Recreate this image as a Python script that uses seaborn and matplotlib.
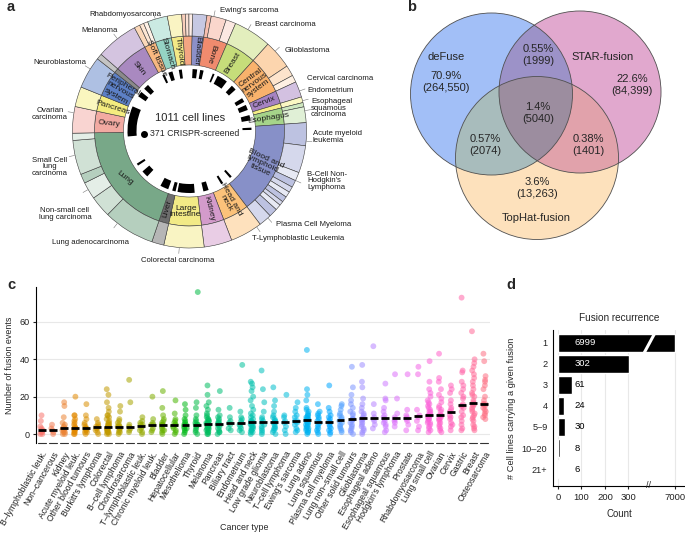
#fusion figure, four panels
import numpy as np
import pandas as pd
import matplotlib
matplotlib.use("Agg")
import matplotlib.pyplot as plt
import matplotlib.colors as mcolors
from matplotlib.patches import Wedge, Circle
from matplotlib.lines import Line2D
import seaborn as sns

sns.set_theme(style="white")
plt.rcParams['font.family'] = ['Liberation Sans', 'DejaVu Sans']

# ---------------- data ----------------
# panel a : tissues of the 1011 cell lines (clockwise from top)
tissue_names = ["Bladder", "Bone", "Breast", "Central\nnervous\nsystem", "Cervix", "", "Esophagus",
                "Blood and\nlymphoid\ntissue", "Head and\nneck", "Kidney", "Large\nintestine", "Liver", "Lung",
                "Ovary", "Pancreas", "Peripheral\nnervous\nsystem", "", "Skin", "Soft tissue", "Stomach",
                "Thyroid", ""]
tissue_counts = [20, 41, 53, 65, 22, 8, 28, 160, 45, 39, 56, 17, 197, 37, 28, 45, 8, 59, 20, 28, 20, 15]
tissue_colors = ["#8c90c8", "#f08b6e", "#c6dd7a", "#f9b26c", "#a683c2", "#f6ee86", "#a6d48a",
                 "#8790c8", "#fcc27a", "#d39bcb", "#f2ea86", "#6d6d6d", "#78a888", "#f2aaa2",
                 "#f4ec7f", "#5d80c6", "#8a8a8a", "#a989c0", "#f8b880", "#95d4c4", "#f4e986", "#f4a582"]
subtype_counts = [[20], [6, 21, 14], [53], [40, 15, 10], [22], [8], [6, 22],
                  [32, 38, 12, 10, 8, 8, 8, 6, 8, 12, 18], [45], [39], [56], [17],
                  [72, 30, 24, 13, 48, 10], [37], [28], [45], [8], [59], [8, 6, 6], [28], [20], [5, 5, 5]]
# CRISPR-screened lines, run lengths in cell-line order (not screened, screened, ...)
crispr_runs = [8, 12, 8, 9, 25, 5, 9, 28, 17, 14, 28, 11, 9, 14, 14, 14, 19, 6, 135, 6, 22, 6,
               36, 14, 23, 45, 5, 9, 11, 22, 42, 18, 19, 6, 75, 80, 30, 14, 11, 14, 45, 6, 11, 11,
               17, 8, 20]
n_lines = 1011
n_screened = 371

# panel b : fusion callers
venn_names = ["deFuse", "STAR-fusion", "TopHat-fusion"]
venn_counts = [264550, 84399, 13263, 1999, 2074, 1401, 5040]
venn_pcts = [70.9, 22.6, 3.6, 0.55, 0.57, 0.38, 1.4]

# panel c : fusion events per cell line, by cancer type
cancer_types = ["B–lymphoblastic leuk.", "Non–cancerous", "Kidney", "Acute myeloid leuk.",
                "Other blood tumours", "Burkitt's lymphoma", "Colorectal", "B–cell lymphoma",
                "Chondrosarcoma", "T–lymphoblastic leuk.", "Chronic myeloid leuk.", "Bladder",
                "Hepatocellular", "Mesothelioma", "Thyroid", "Melanoma", "Pancreas", "Biliary tract",
                "Endometrium", "Head and neck", "Low grade glioma", "Neuroblastoma", "T–cell lymphoma",
                "Ewing's sarcoma", "Lung adeno", "Lung squamous", "Plasma cell myeloma",
                "Lung non–small cell", "Other solid tumours", "Glioblastoma", "Esophageal adeno",
                "Esophageal squamous", "Hodgkin's lymphoma", "Prostate", "Rhabdomyosarcoma",
                "Lung small cell", "Ovarian", "Cervix", "Gastric", "Breast", "Osteosarcoma"]
fusion_events = [
    [0, 0, 1, 1, 2, 2, 3, 4, 7, 10],
    [0, 1, 2, 3, 5],
    [0, 0, 1, 1, 2, 2, 3, 3, 4, 5, 6, 9, 15, 17],
    [0, 0, 1, 1, 2, 2, 3, 3, 3, 4, 5, 6, 7, 8, 10, 10, 20],
    [0, 1, 1, 2, 2, 3, 3, 3, 4, 5, 6, 8, 10, 16],
    [0, 1, 2, 3, 3, 4, 4, 5, 6, 8],
    [0, 0, 1, 1, 1, 2, 2, 2, 3, 3, 3, 3, 4, 4, 4, 4, 5, 5, 5, 6, 6, 7, 8, 9, 10, 10, 12, 14, 17, 21, 24],
    [0, 1, 1, 2, 3, 3, 4, 4, 4, 5, 6, 7, 8, 12, 15],
    [1, 2, 3, 4, 5, 17, 29],
    [0, 1, 2, 3, 4, 5, 5, 6, 7, 9],
    [1, 2, 3, 5, 5, 6, 8, 20],
    [0, 1, 2, 2, 3, 4, 5, 5, 5, 6, 7, 8, 10, 14, 23],
    [0, 1, 2, 3, 4, 5, 5, 6, 7, 8, 11, 18],
    [0, 1, 2, 3, 3, 4, 5, 5, 6, 7, 8, 10, 13, 16],
    [0, 1, 2, 3, 4, 5, 5, 5, 6, 7, 8, 10, 14, 17, 76],
    [0, 0, 1, 1, 2, 2, 3, 3, 3, 4, 4, 4, 5, 5, 5, 6, 6, 6, 7, 7, 8, 8, 9, 10, 11, 13, 15, 17, 21, 26],
    [0, 1, 1, 2, 3, 4, 5, 5, 6, 6, 7, 8, 9, 10, 13, 23],
    [2, 3, 5, 6, 7, 9, 14],
    [1, 2, 3, 4, 5, 6, 7, 8, 9, 12, 37],
    [0, 1, 1, 2, 2, 3, 3, 4, 4, 5, 5, 6, 6, 6, 7, 7, 8, 9, 10, 11, 13, 15, 18, 20, 23, 25, 27, 28],
    [0, 1, 2, 3, 4, 5, 6, 7, 8, 9, 12, 17, 24, 34],
    [0, 1, 2, 3, 3, 4, 5, 6, 6, 7, 7, 8, 9, 10, 12, 15, 18, 25],
    [0, 2, 4, 6, 7, 9, 10, 21],
    [1, 2, 3, 5, 6, 7, 7, 9, 10, 12, 14, 17],
    [0, 1, 1, 2, 2, 3, 3, 4, 4, 5, 5, 6, 6, 7, 7, 8, 8, 8, 9, 9, 10, 10, 11, 12, 13, 14, 18, 21, 24, 45],
    [0, 1, 2, 3, 4, 5, 6, 7, 8, 9, 10, 11, 12, 16],
    [0, 1, 2, 3, 4, 5, 6, 7, 8, 9, 10, 12, 14, 26],
    [1, 2, 3, 4, 5, 6, 7, 8, 9, 10, 11, 13, 15, 16],
    [0, 1, 2, 3, 4, 5, 6, 7, 8, 8, 8, 10, 11, 12, 14, 16, 18, 21, 25, 36],
    [0, 1, 2, 3, 4, 5, 6, 7, 8, 8, 9, 10, 11, 12, 14, 16, 19, 25, 28, 37],
    [3, 5, 7, 8, 9, 11, 16, 47],
    [1, 2, 4, 5, 6, 7, 8, 9, 10, 12, 14, 18, 19, 27],
    [4, 6, 7, 8, 9, 11, 19, 32],
    [2, 5, 7, 8, 9, 10, 13, 32],
    [2, 4, 7, 9, 10, 13, 32, 36],
    [1, 2, 3, 4, 5, 6, 6, 7, 8, 8, 9, 9, 10, 10, 10, 11, 12, 12, 13, 14, 15, 16, 17, 18, 20, 22, 24, 28, 39],
    [1, 2, 3, 4, 5, 6, 7, 8, 8, 9, 10, 10, 10, 12, 13, 14, 15, 17, 19, 21, 24, 28, 30, 43],
    [2, 4, 5, 6, 8, 9, 10, 12, 13, 14, 16, 18, 22, 24, 26],
    [2, 3, 5, 7, 9, 10, 12, 14, 15, 15, 16, 19, 20, 22, 24, 26, 28, 33, 34, 73],
    [2, 3, 4, 5, 7, 8, 9, 10, 11, 12, 13, 14, 15, 16, 16, 17, 18, 20, 21, 22, 24, 26, 28, 30, 32, 34, 36, 38, 40, 55],
    [8, 9, 10, 11, 12, 13, 14, 15, 16, 16, 16, 18, 20, 24, 26, 28, 29, 31, 39, 43],
]

# panel d : fusion recurrence
recurrence = ["1", "2", "3", "4", "5–9", "10–20", "21+"]
recurrence_counts = [6999, 302, 61, 24, 30, 8, 6]

# ---------------- figure ----------------
W, H = 685, 533
fig = plt.figure(figsize=(W / 100, H / 100), dpi=100)


def px_axes(x0, y0, x1, y1):
    return fig.add_axes([x0 / W, 1 - y1 / H, (x1 - x0) / W, (y1 - y0) / H])


def tint(c, f):
    rgb = np.array(mcolors.to_rgb(c))
    return tuple(rgb + (1 - rgb) * f)


def fig_text(x, y, s, **kw):
    fig.text(x / W, 1 - y / H, s, **kw)


# ---- a : donut ----
axa = px_axes(0, 0, 400, 268)
axa.set_xlim(0, 400)
axa.set_ylim(268, 0)
axa.axis('off')
cx, cy = 189.5, 131
deg = 360 / n_lines
edge = dict(edgecolor='#3c3c3c', lw=0.4)
tints = [0.45, 0.65, 0.8]
th = 1.5
for name, n, col, subs in zip(tissue_names, tissue_counts, tissue_colors, subtype_counts):
    t1, t2 = th, th + n * deg
    axa.add_patch(Wedge((cx, cy), 95, t1 - 90, t2 - 90, width=29, facecolor=col, **edge))
    s = t1
    for k, m in enumerate(subs):
        f = 0.5 if len(subs) == 1 else tints[k % 3]
        axa.add_patch(Wedge((cx, cy), 117, s - 90, s + m * deg - 90, width=22,
                            facecolor=tint(col, f), **edge))
        s += m * deg
    if name:
        mid = (t1 + t2) / 2
        rot = ((90 - mid + 90) % 180) - 90
        if (mid > 330 or mid < 30) and rot > 0:
            rot -= 180
        if name.startswith("Large"):
            rot = 0
        if name == "Lung":
            rot = -38
        r = 80.5
        axa.text(cx + r * np.sin(np.radians(mid)), cy - r * np.cos(np.radians(mid)), name,
                 rotation=rot, ha='center', va='center', fontsize=6, linespacing=0.95,
                 rotation_mode='anchor', color='#1a1a1a')
    th = t2

pos = 0
for k, n in enumerate(crispr_runs):
    if k % 2 == 1:
        axa.add_patch(Wedge((cx, cy), 62, pos * deg - 90, (pos + n) * deg - 90, width=9,
                            facecolor='black', edgecolor='none'))
    pos += n

axa.text(cx + 1, 118, f"{n_lines} cell lines", ha='center', va='center', fontsize=8)
axa.plot([144], [134], 'o', color='black', ms=4)
axa.text(150, 134, f"{n_screened} CRISPR-screened", ha='left', va='center', fontsize=6.3)

outer_labels = [
    ("Rhabdomyosarcoma", 125, 15, 'center', 343),
    ("Melanoma", 100, 31, 'center', 322),
    ("Neuroblastoma", 60, 62, 'center', 302),
    ("Ovarian\ncarcinoma", 50, 114, 'center', 279),
    ("Small Cell\nlung\ncarcinoma", 50, 167, 'center', 258),
    ("Non-small cell\nlung carcinoma", 65, 214, 'center', 240),
    ("Lung adenocarcinoma", 91, 243, 'center', 218),
    ("Colorectal carcinoma", 178, 260, 'center', 185),
    ("T-Lymphoblastic Leukemia", 252, 239, 'left', 145),
    ("Plasma Cell Myeloma", 276, 225, 'left', 138),
    ("B-Cell Non-\nHodgkin's\nLymphoma", 307, 181, 'left', 115),
    ("Acute myeloid\nleukemia", 313, 137, 'left', 95),
    ("Esophageal\nsquamous\ncarcinoma", 311, 108, 'left', 80),
    ("Endometrium", 307, 90, 'left', 75),
    ("Cervical carcinoma", 307, 78, 'left', 70),
    ("Glioblastoma", 307, 51, 'center', 47),
    ("Breast carcinoma", 285, 25, 'center', 30),
    ("Ewing's sarcoma", 249, 10, 'center', 12),
]
for txt, x, y, ha, ang in outer_labels:
    axa.text(x, y, txt, ha=ha, va='center', fontsize=5.6, linespacing=0.95, color='#1a1a1a')
    a = np.radians(ang)
    axa.plot([cx + 117.5 * np.sin(a), cx + 123 * np.sin(a)],
             [cy - 117.5 * np.cos(a), cy - 123 * np.cos(a)], color='#777777', lw=0.4)

# ---- b : venn ----
axb = px_axes(400, 0, 685, 268)
circles = [(491.5, 94, 81), (580, 92, 81), (537, 158, 81.5)]
region_rgb = np.array([(255, 255, 255), (163, 191, 247), (226, 168, 206), (156, 147, 201),
                       (253, 225, 189), (168, 189, 189), (226, 163, 171), (156, 141, 160)]) / 255
ss = 3
X, Y = np.meshgrid((np.arange(400 * ss, 685 * ss) + 0.5) / ss, (np.arange(0, 268 * ss) + 0.5) / ss)
code = np.zeros(X.shape, dtype=int)
for k, (ccx, ccy, r) in enumerate(circles):
    code += (((X - ccx) ** 2 + (Y - ccy) ** 2) <= r ** 2).astype(int) << k
axb.imshow(region_rgb[code], extent=(400, 685, 268, 0), interpolation='antialiased')
for ccx, ccy, r in circles:
    axb.add_patch(Circle((ccx, ccy), r, facecolor='none', edgecolor='#505050', lw=0.6))
axb.set_xlim(400, 685)
axb.set_ylim(268, 0)
axb.axis('off')

for nm, (x, y) in zip(venn_names, [(446.5, 57), (603, 57), (536, 218)]):
    axb.text(x, y, nm, ha='center', va='center', fontsize=8)
for c, p, (x, y) in zip(venn_counts, venn_pcts,
                        [(446, 82), (632, 85), (537, 188), (538, 55), (485, 145), (588, 145), (538, 113)]):
    cs = f"{c:,}" if c >= 10000 else str(c)
    axb.text(x, y, f"{p}%\n({cs})", ha='center', va='center', fontsize=8, linespacing=1.2)

# ---- c : strip plot ----
def gg_hue(n):
    hues = np.linspace(15, 375, n + 1)[:-1]
    try:
        from seaborn.external import husl
        return [tuple(np.clip(husl.lch_to_rgb(65, 100, h), 0, 1)) for h in hues]
    except Exception:
        return sns.husl_palette(n, h=15 / 360, l=0.65)


df = pd.DataFrame({"type": np.repeat(cancer_types, [len(v) for v in fusion_events]),
                   "events": np.concatenate(fusion_events)})
axc = px_axes(36, 287, 490, 443)
np.random.seed(7)
sns.stripplot(data=df, x="type", y="events", hue="type", order=cancer_types, hue_order=cancer_types,
              palette=gg_hue(len(cancer_types)), jitter=0.13, size=4.2, alpha=0.55, linewidth=0,
              legend=False, ax=axc, zorder=3)
med = df.groupby("type")["events"].median().reindex(cancer_types).values
axc.hlines(med, np.arange(len(med)) - 0.36, np.arange(len(med)) + 0.36, color='black', lw=2, zorder=4)
for i in range(len(cancer_types)):
    axc.plot([i - 0.36, i + 0.36], [-4.8, -4.8], color='#333333', lw=0.8, clip_on=False)
axc.set_xlim(-0.5, len(cancer_types) - 0.5)
axc.set_ylim(-4.8, 78.7)
axc.set_yticks([0, 20, 40, 60])
axc.yaxis.grid(True, color='#e8e8e8', lw=0.8)
axc.set_axisbelow(True)
for sp in ['top', 'right', 'bottom']:
    axc.spines[sp].set_visible(False)
axc.spines['left'].set_color('black')
axc.spines['left'].set_linewidth(0.8)
axc.set_xticks(range(len(cancer_types)))
axc.set_xticklabels(cancer_types, rotation=60, ha='right', rotation_mode='anchor', fontsize=6.2,
                    color='#222222')
axc.tick_params(axis='x', length=0, pad=5)
axc.tick_params(axis='y', length=2.5, width=0.8, labelsize=6.5, pad=2, left=True, colors='#222222')
axc.set_xlabel("")
axc.set_ylabel("Number of fusion events", fontsize=6.4, labelpad=4)
fig_text(244, 527, "Cancer type", ha='center', va='center', fontsize=6.4)

# ---- d : broken bar chart ----
dfd = pd.DataFrame({"rec": recurrence, "count": recurrence_counts})
axd1 = px_axes(553, 330, 648, 486)
axd2 = px_axes(648, 330, 685, 486)
for ax, lim in [(axd1, (-21, 383)), (axd2, (6885, 7042))]:
    sns.barplot(data=dfd, x="count", y="rec", order=recurrence, color='black', saturation=1,
                width=0.85, errorbar=None, orient='h', ax=ax, zorder=3)
    ax.set_xlim(*lim)
    ax.set_ylim(6.8, -0.6)
    ax.set_xlabel("")
    ax.set_ylabel("")
    ax.xaxis.grid(True, color='#e8e8e8', lw=0.8)
    ax.set_axisbelow(True)
    for sp in ['top', 'right']:
        ax.spines[sp].set_visible(False)
    ax.spines['bottom'].set_color('black')
    ax.spines['bottom'].set_linewidth(0.8)
    ax.tick_params(axis='x', length=2.5, width=0.8, labelsize=6.8, pad=2.5, bottom=True, colors='#222222')
axd1.set_xticks([0, 100, 200, 300])
axd2.set_xticks([7000])
axd1.spines['left'].set_color('black')
axd1.spines['left'].set_linewidth(0.8)
axd1.tick_params(axis='y', length=0, labelsize=6.6, pad=4, colors='#222222')
axd2.spines['left'].set_visible(False)
axd2.set_yticks([])
for i, c in enumerate(recurrence_counts):
    axd1.text(70, i, str(c), ha='left', va='center', fontsize=6.8,
              color='white' if c > 100 else 'black', zorder=5)
fig.add_artist(Line2D([643 / W, 656 / W], [1 - 355 / H, 1 - 331 / H], color='white', lw=2.2,
                      transform=fig.transFigure))
fig_text(648, 486, "//", ha='center', va='center', fontsize=6.5)
fig_text(619, 318, "Fusion recurrence", ha='center', va='center', fontsize=7.2)
fig_text(619, 514, "Count", ha='center', va='center', fontsize=6.9)
fig_text(512, 408, "# Cell lines carrying a given fusion", ha='center', va='center',
         fontsize=6.7, rotation=90)

# panel letters
for s, x, y in [("a", 11, 7), ("b", 412, 7), ("c", 11, 285), ("d", 511, 285)]:
    fig_text(x, y, s, ha='center', va='center', fontsize=10.5, fontweight='bold')

fig.savefig("out.png", dpi=100)
